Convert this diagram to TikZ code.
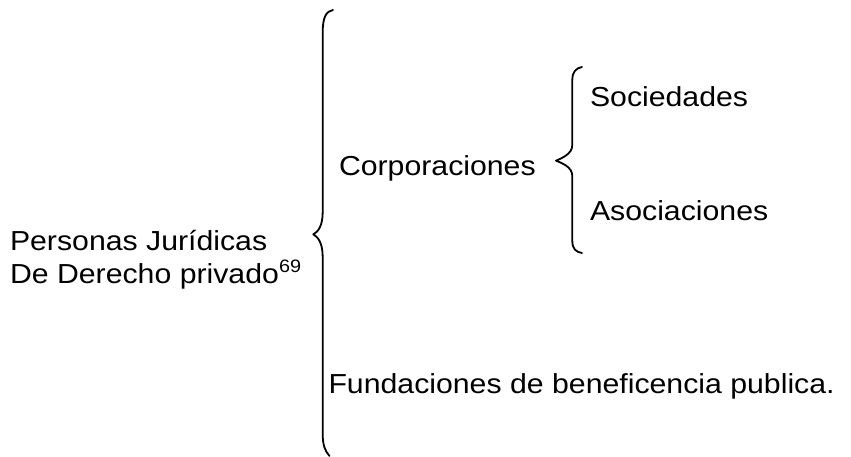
\documentclass[tikz,border=0pt]{standalone}
\usepackage{fontspec}
\setmainfont[FakeStretch=1.1]{Liberation Sans}
\begin{document}
\begin{tikzpicture}[x=1pt,y=-1pt,
  lbl/.style={anchor=base west,inner sep=0pt,outer sep=0pt,font=\fontsize{27.5}{33}\selectfont},
  brace/.style={line width=1.8pt,line cap=round,line join=round}]
\useasboundingbox[fill=white] (0,0) rectangle (851,457);
\node[lbl] (p1) at (10,251) {Personas Jurídicas};
\node[lbl] (p2) at (10,283.5) {De Derecho privado\raisebox{11pt}{\fontsize{18}{18}\selectfont 69}};
\node[lbl] (corp) at (339,176) {Corporaciones};
\node[lbl] (soc) at (590,107) {Sociedades};
\node[lbl] (aso) at (590,221) {Asociaciones};
\node[lbl] (fund) at (328.5,393) {Fundaciones de beneficencia publica.};
% big brace
\coordinate (bt) at (333,10);
\coordinate (btip) at (313.3,234.3);
\coordinate (bb) at (329.5,456);
\draw[brace] (bt) .. controls (326,11) and (322.7,18) .. (322.7,32)
  -- (322.7,212) .. controls (322.7,226) and (318,232) .. (btip)
  .. controls (318,237) and (322.7,243) .. (322.7,257)
  -- (322.7,434) .. controls (322.7,445) and (325,451) .. (bb);
% small brace
\coordinate (st) at (582,67);
\coordinate (stip) at (556,160.7);
\coordinate (sb) at (582,253);
\draw[brace] (st) .. controls (576,68) and (572.3,72) .. (572.3,80)
  -- (572.3,145) .. controls (572.3,154) and (562,158) .. (stip)
  .. controls (562,163) and (572.3,167) .. (572.3,176)
  -- (572.3,241) .. controls (572.3,249) and (576,252) .. (sb);
\end{tikzpicture}
\end{document}
